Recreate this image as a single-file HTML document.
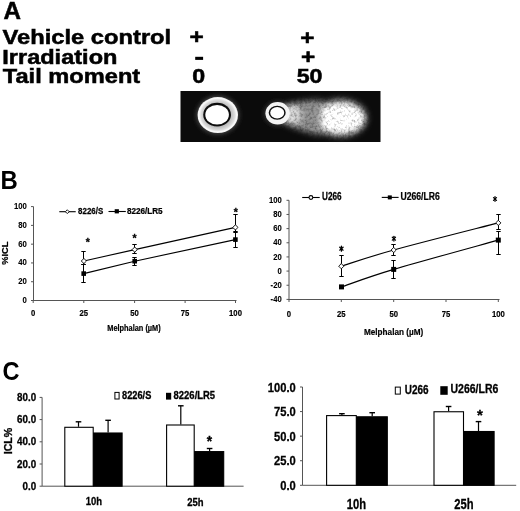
<!DOCTYPE html>
<html><head><meta charset="utf-8"><style>
html,body{margin:0;padding:0;background:#fff;}
svg{display:block;will-change:transform;}
text{font-family:"Liberation Sans", sans-serif;fill:#000;}
</style></head><body>
<svg width="520" height="511" viewBox="0 0 520 511">
<defs>
<radialGradient id="ringg"><stop offset="0" stop-color="#c8c8c8"/><stop offset="0.68" stop-color="#c0c0c0"/><stop offset="0.84" stop-color="#dedede"/><stop offset="0.93" stop-color="#fafafa"/><stop offset="1" stop-color="#f0f0f0"/></radialGradient>
<filter id="b04" x="-20%" y="-20%" width="140%" height="140%"><feGaussianBlur stdDeviation="0.4"/></filter>
<filter id="b05" x="-20%" y="-20%" width="140%" height="140%"><feGaussianBlur stdDeviation="0.5"/></filter>
<filter id="b07" x="-20%" y="-20%" width="140%" height="140%"><feGaussianBlur stdDeviation="0.7"/></filter>
<filter id="b1" x="-20%" y="-20%" width="140%" height="140%"><feGaussianBlur stdDeviation="1"/></filter>
<filter id="b2" x="-30%" y="-30%" width="160%" height="160%"><feGaussianBlur stdDeviation="2"/></filter>
<filter id="tailf" x="-20%" y="-30%" width="140%" height="160%">
<feGaussianBlur in="SourceGraphic" stdDeviation="3" result="bl"/>
<feTurbulence type="fractalNoise" baseFrequency="0.35" numOctaves="3" seed="5" result="n"/>
<feColorMatrix in="n" type="matrix" values="0 0 0 0 1  0 0 0 0 1  0 0 0 0 1  0 0 0 1.6 -0.1" result="m"/>
<feComposite in="bl" in2="m" operator="arithmetic" k1="0.6" k2="0.6" k3="0" k4="0"/>
</filter>
</defs>
<text x="0" y="0" font-size="24.2" font-weight="bold" text-anchor="start" stroke="#000" stroke-width="0.5" transform="translate(3.6 18.5)">A</text>
<text x="2.6" y="44.3" font-size="19.5" font-weight="bold" text-anchor="start" textLength="168.6" lengthAdjust="spacingAndGlyphs" stroke="#000" stroke-width="0.5">Vehicle control</text>
<text x="2.3" y="64.3" font-size="19.5" font-weight="bold" text-anchor="start" textLength="115.1" lengthAdjust="spacingAndGlyphs" stroke="#000" stroke-width="0.5">Irradiation</text>
<text x="2.8" y="83.4" font-size="19.5" font-weight="bold" text-anchor="start" textLength="137.4" lengthAdjust="spacingAndGlyphs" stroke="#000" stroke-width="0.5">Tail moment</text>
<text x="196.6" y="44.4" font-size="19.5" font-weight="bold" text-anchor="middle" stroke="#000" stroke-width="0.5" transform="translate(196.6 0) scale(1.25 1) translate(-196.6 0)">+</text>
<rect x="195.2" y="56.8" width="7.9" height="3.1" fill="#000"/>
<text x="198.7" y="83.4" font-size="19.5" font-weight="bold" text-anchor="middle" stroke="#000" stroke-width="0.5" transform="translate(198.7 0) scale(1.19 1) translate(-198.7 0)">0</text>
<text x="307.4" y="44.7" font-size="19.5" font-weight="bold" text-anchor="middle" stroke="#000" stroke-width="0.5" transform="translate(307.4 0) scale(1.25 1) translate(-307.4 0)">+</text>
<text x="308.2" y="64" font-size="19.5" font-weight="bold" text-anchor="middle" stroke="#000" stroke-width="0.5" transform="translate(308.2 0) scale(1.25 1) translate(-308.2 0)">+</text>
<text x="309.6" y="83.3" font-size="19.5" font-weight="bold" text-anchor="middle" stroke="#000" stroke-width="0.5" transform="translate(309.6 0) scale(1.19 1) translate(-309.6 0)">50</text>
<g>
<rect x="180.5" y="91" width="200" height="51" fill="#0b0b0b"/>
<ellipse cx="217.8" cy="115.1" rx="21.5" ry="19.3" fill="#444" filter="url(#b2)"/>
<ellipse cx="217.8" cy="115.1" rx="20.2" ry="18" fill="url(#ringg)" filter="url(#b07)"/>
<ellipse cx="217.1" cy="114.7" rx="13.9" ry="11.9" fill="#111" filter="url(#b04)"/>
<ellipse cx="217.1" cy="114.7" rx="11.8" ry="9.8" fill="#fff" filter="url(#b04)"/>
<ellipse cx="277.5" cy="113.5" rx="13.5" ry="12.5" fill="#333" filter="url(#b2)"/>
<g filter="url(#tailf)">
<ellipse cx="340" cy="118" rx="27" ry="19" fill="#888"/>
<ellipse cx="340.5" cy="118.2" rx="23.5" ry="14.5" fill="#fff"/>
<ellipse cx="341" cy="118.3" rx="18" ry="10" fill="#fff"/>
<path d="M284,105 C296,102 310,100 322,100 L322,135 C310,133 296,129 284,123 Z" fill="#8a8a8a"/>
<ellipse cx="292" cy="114.5" rx="9" ry="9.5" fill="#d0d0d0"/>
</g>
<ellipse cx="277.6" cy="113.3" rx="12.2" ry="11.2" fill="#f4f4f4" filter="url(#b07)"/>
<ellipse cx="277.2" cy="112.75" rx="8.5" ry="7.1" fill="#111" filter="url(#b04)"/>
<ellipse cx="277.2" cy="112.75" rx="7.0" ry="5.75" fill="#fff" filter="url(#b04)"/>
</g>
<text x="0" y="0" font-size="26.3" font-weight="bold" text-anchor="start" transform="translate(0.5 189) scale(0.91 1)">B</text>
<line x1="33.50" y1="206.60" x2="33.50" y2="301.00" stroke="#555" stroke-width="1.0"/>
<line x1="33.00" y1="300.50" x2="236.50" y2="300.50" stroke="#555" stroke-width="1.0"/>
<line x1="31.00" y1="300.50" x2="33.50" y2="300.50" stroke="#555" stroke-width="1.0"/>
<line x1="31.00" y1="281.72" x2="33.50" y2="281.72" stroke="#555" stroke-width="1.0"/>
<line x1="31.00" y1="262.94" x2="33.50" y2="262.94" stroke="#555" stroke-width="1.0"/>
<line x1="31.00" y1="244.16" x2="33.50" y2="244.16" stroke="#555" stroke-width="1.0"/>
<line x1="31.00" y1="225.38" x2="33.50" y2="225.38" stroke="#555" stroke-width="1.0"/>
<line x1="31.00" y1="206.60" x2="33.50" y2="206.60" stroke="#555" stroke-width="1.0"/>
<line x1="33.20" y1="300.50" x2="33.20" y2="303.00" stroke="#555" stroke-width="1.0"/>
<line x1="83.80" y1="300.50" x2="83.80" y2="303.00" stroke="#555" stroke-width="1.0"/>
<line x1="134.60" y1="300.50" x2="134.60" y2="303.00" stroke="#555" stroke-width="1.0"/>
<line x1="185.10" y1="300.50" x2="185.10" y2="303.00" stroke="#555" stroke-width="1.0"/>
<line x1="235.50" y1="300.50" x2="235.50" y2="303.00" stroke="#555" stroke-width="1.0"/>
<text transform="translate(26.90 303.00) scale(0.8 1)" font-size="9.7" font-weight="bold" text-anchor="end" stroke="#000" stroke-width="0.12">0</text>
<text transform="translate(26.90 284.22) scale(0.8 1)" font-size="9.7" font-weight="bold" text-anchor="end" stroke="#000" stroke-width="0.12">20</text>
<text transform="translate(26.90 265.44) scale(0.8 1)" font-size="9.7" font-weight="bold" text-anchor="end" stroke="#000" stroke-width="0.12">40</text>
<text transform="translate(26.90 246.66) scale(0.8 1)" font-size="9.7" font-weight="bold" text-anchor="end" stroke="#000" stroke-width="0.12">60</text>
<text transform="translate(26.90 227.88) scale(0.8 1)" font-size="9.7" font-weight="bold" text-anchor="end" stroke="#000" stroke-width="0.12">80</text>
<text transform="translate(26.90 209.10) scale(0.8 1)" font-size="9.7" font-weight="bold" text-anchor="end" stroke="#000" stroke-width="0.12">100</text>
<text transform="translate(33.20 316.40) scale(0.82 1)" font-size="9.4" font-weight="bold" text-anchor="middle" stroke="#000" stroke-width="0.2">0</text>
<text transform="translate(83.80 316.40) scale(0.82 1)" font-size="9.4" font-weight="bold" text-anchor="middle" stroke="#000" stroke-width="0.2">25</text>
<text transform="translate(134.60 316.40) scale(0.82 1)" font-size="9.4" font-weight="bold" text-anchor="middle" stroke="#000" stroke-width="0.2">50</text>
<text transform="translate(185.10 316.40) scale(0.82 1)" font-size="9.4" font-weight="bold" text-anchor="middle" stroke="#000" stroke-width="0.2">75</text>
<text transform="translate(235.50 316.40) scale(0.82 1)" font-size="9.4" font-weight="bold" text-anchor="middle" stroke="#000" stroke-width="0.2">100</text>
<text transform="translate(134.00 331.30) scale(0.9 1)" font-size="8.2" font-weight="bold" text-anchor="middle" stroke="#000" stroke-width="0.2">Melphalan (µM)</text>
<text transform="translate(7.90 253.20) rotate(-90)" font-size="9.3" font-weight="bold" text-anchor="middle" stroke="#000" stroke-width="0.2">%ICL</text>
<line x1="83.50" y1="251.70" x2="83.50" y2="264.00" stroke="#000" stroke-width="1.05"/>
<line x1="81.30" y1="251.50" x2="85.70" y2="251.50" stroke="#000" stroke-width="1.05"/>
<line x1="81.30" y1="264.50" x2="85.70" y2="264.50" stroke="#000" stroke-width="1.05"/>
<line x1="83.50" y1="264.90" x2="83.50" y2="282.30" stroke="#000" stroke-width="1.05"/>
<line x1="81.30" y1="264.50" x2="85.70" y2="264.50" stroke="#000" stroke-width="1.05"/>
<line x1="81.30" y1="282.50" x2="85.70" y2="282.50" stroke="#000" stroke-width="1.05"/>
<line x1="134.50" y1="244.70" x2="134.50" y2="253.10" stroke="#000" stroke-width="1.05"/>
<line x1="132.30" y1="244.50" x2="136.70" y2="244.50" stroke="#000" stroke-width="1.05"/>
<line x1="132.30" y1="253.50" x2="136.70" y2="253.50" stroke="#000" stroke-width="1.05"/>
<line x1="134.50" y1="257.60" x2="134.50" y2="265.20" stroke="#000" stroke-width="1.05"/>
<line x1="132.30" y1="257.50" x2="136.70" y2="257.50" stroke="#000" stroke-width="1.05"/>
<line x1="132.30" y1="265.50" x2="136.70" y2="265.50" stroke="#000" stroke-width="1.05"/>
<line x1="235.50" y1="214.00" x2="235.50" y2="231.40" stroke="#000" stroke-width="1.05"/>
<line x1="233.30" y1="214.50" x2="237.70" y2="214.50" stroke="#000" stroke-width="1.05"/>
<line x1="233.30" y1="231.50" x2="237.70" y2="231.50" stroke="#000" stroke-width="1.05"/>
<line x1="235.50" y1="232.00" x2="235.50" y2="247.00" stroke="#000" stroke-width="1.05"/>
<line x1="233.30" y1="232.50" x2="237.70" y2="232.50" stroke="#000" stroke-width="1.05"/>
<line x1="233.30" y1="247.50" x2="237.70" y2="247.50" stroke="#000" stroke-width="1.05"/>
<path d="M83.90,261.00 L134.70,249.60 L235.40,227.40" stroke="#000" stroke-width="1.1" fill="none"/>
<path d="M83.70,273.60 L134.70,261.20 L235.40,239.60" stroke="#000" stroke-width="1.1" fill="none"/>
<path d="M83.90,258.40 L86.50,261.00 L83.90,263.60 L81.30,261.00Z" fill="#fff" stroke="#000" stroke-width="0.9"/>
<path d="M134.70,247.00 L137.30,249.60 L134.70,252.20 L132.10,249.60Z" fill="#fff" stroke="#000" stroke-width="0.9"/>
<path d="M235.40,224.80 L238.00,227.40 L235.40,230.00 L232.80,227.40Z" fill="#fff" stroke="#000" stroke-width="0.9"/>
<rect x="81.40" y="271.30" width="4.60" height="4.60" fill="#000"/>
<rect x="132.40" y="258.90" width="4.60" height="4.60" fill="#000"/>
<rect x="233.10" y="237.30" width="4.60" height="4.60" fill="#000"/>
<text transform="translate(87.80 246.23)" font-size="10.5" font-weight="bold" text-anchor="middle" stroke="#000" stroke-width="0.3">*</text>
<text transform="translate(134.60 242.03)" font-size="10.5" font-weight="bold" text-anchor="middle" stroke="#000" stroke-width="0.3">*</text>
<text transform="translate(235.70 215.53)" font-size="10.5" font-weight="bold" text-anchor="middle" stroke="#000" stroke-width="0.3">*</text>
<line x1="59.30" y1="211.70" x2="75.70" y2="211.70" stroke="#000" stroke-width="1.1"/>
<path d="M67.30,209.80 L69.20,211.70 L67.30,213.60 L65.40,211.70Z" fill="#fff" stroke="#000" stroke-width="0.9"/>
<text transform="translate(78.10 213.70) scale(0.86 1)" font-size="9.2" font-weight="bold" text-anchor="start" stroke="#000" stroke-width="0.25">8226/S</text>
<line x1="108.50" y1="211.50" x2="125.80" y2="211.50" stroke="#000" stroke-width="1.1"/>
<rect x="114.70" y="209.20" width="4.20" height="4.20" fill="#000"/>
<text transform="translate(126.90 213.70) scale(0.885 1)" font-size="9.2" font-weight="bold" text-anchor="start" stroke="#000" stroke-width="0.25">8226/LR5</text>
<line x1="289.00" y1="200.30" x2="289.00" y2="299.90" stroke="#555" stroke-width="1.0"/>
<line x1="288.50" y1="299.50" x2="499.50" y2="299.50" stroke="#555" stroke-width="1.0"/>
<line x1="286.50" y1="299.40" x2="289.00" y2="299.40" stroke="#555" stroke-width="1.0"/>
<line x1="286.50" y1="285.24" x2="289.00" y2="285.24" stroke="#555" stroke-width="1.0"/>
<line x1="286.50" y1="271.09" x2="289.00" y2="271.09" stroke="#555" stroke-width="1.0"/>
<line x1="286.50" y1="256.93" x2="289.00" y2="256.93" stroke="#555" stroke-width="1.0"/>
<line x1="286.50" y1="242.77" x2="289.00" y2="242.77" stroke="#555" stroke-width="1.0"/>
<line x1="286.50" y1="228.61" x2="289.00" y2="228.61" stroke="#555" stroke-width="1.0"/>
<line x1="286.50" y1="214.46" x2="289.00" y2="214.46" stroke="#555" stroke-width="1.0"/>
<line x1="286.50" y1="200.30" x2="289.00" y2="200.30" stroke="#555" stroke-width="1.0"/>
<line x1="289.00" y1="299.50" x2="289.00" y2="302.00" stroke="#555" stroke-width="1.0"/>
<line x1="341.30" y1="299.50" x2="341.30" y2="302.00" stroke="#555" stroke-width="1.0"/>
<line x1="393.70" y1="299.50" x2="393.70" y2="302.00" stroke="#555" stroke-width="1.0"/>
<line x1="446.00" y1="299.50" x2="446.00" y2="302.00" stroke="#555" stroke-width="1.0"/>
<line x1="498.30" y1="299.50" x2="498.30" y2="302.00" stroke="#555" stroke-width="1.0"/>
<text transform="translate(281.70 302.00) scale(0.8 1)" font-size="9.6" font-weight="bold" text-anchor="end" stroke="#000" stroke-width="0.12">-40</text>
<text transform="translate(281.70 287.84) scale(0.8 1)" font-size="9.6" font-weight="bold" text-anchor="end" stroke="#000" stroke-width="0.12">-20</text>
<text transform="translate(281.70 273.69) scale(0.8 1)" font-size="9.6" font-weight="bold" text-anchor="end" stroke="#000" stroke-width="0.12">0</text>
<text transform="translate(281.70 259.53) scale(0.8 1)" font-size="9.6" font-weight="bold" text-anchor="end" stroke="#000" stroke-width="0.12">20</text>
<text transform="translate(281.70 245.37) scale(0.8 1)" font-size="9.6" font-weight="bold" text-anchor="end" stroke="#000" stroke-width="0.12">40</text>
<text transform="translate(281.70 231.21) scale(0.8 1)" font-size="9.6" font-weight="bold" text-anchor="end" stroke="#000" stroke-width="0.12">60</text>
<text transform="translate(281.70 217.06) scale(0.8 1)" font-size="9.6" font-weight="bold" text-anchor="end" stroke="#000" stroke-width="0.12">80</text>
<text transform="translate(281.70 202.90) scale(0.8 1)" font-size="9.6" font-weight="bold" text-anchor="end" stroke="#000" stroke-width="0.12">100</text>
<text transform="translate(289.00 316.80) scale(0.82 1)" font-size="9.4" font-weight="bold" text-anchor="middle" stroke="#000" stroke-width="0.2">0</text>
<text transform="translate(341.30 316.80) scale(0.82 1)" font-size="9.4" font-weight="bold" text-anchor="middle" stroke="#000" stroke-width="0.2">25</text>
<text transform="translate(393.70 316.80) scale(0.82 1)" font-size="9.4" font-weight="bold" text-anchor="middle" stroke="#000" stroke-width="0.2">50</text>
<text transform="translate(446.00 316.80) scale(0.82 1)" font-size="9.4" font-weight="bold" text-anchor="middle" stroke="#000" stroke-width="0.2">75</text>
<text transform="translate(498.30 316.80) scale(0.82 1)" font-size="9.4" font-weight="bold" text-anchor="middle" stroke="#000" stroke-width="0.2">100</text>
<text transform="translate(393.60 334.70) scale(0.88 1)" font-size="9.3" font-weight="bold" text-anchor="middle" stroke="#000" stroke-width="0.2">Melphalan (µM)</text>
<line x1="341.50" y1="255.00" x2="341.50" y2="276.30" stroke="#000" stroke-width="1.05"/>
<line x1="339.30" y1="255.50" x2="343.70" y2="255.50" stroke="#000" stroke-width="1.05"/>
<line x1="339.30" y1="276.50" x2="343.70" y2="276.50" stroke="#000" stroke-width="1.05"/>
<line x1="393.50" y1="244.00" x2="393.50" y2="255.00" stroke="#000" stroke-width="1.05"/>
<line x1="391.30" y1="244.50" x2="395.70" y2="244.50" stroke="#000" stroke-width="1.05"/>
<line x1="391.30" y1="255.50" x2="395.70" y2="255.50" stroke="#000" stroke-width="1.05"/>
<line x1="393.50" y1="260.60" x2="393.50" y2="278.10" stroke="#000" stroke-width="1.05"/>
<line x1="391.30" y1="260.50" x2="395.70" y2="260.50" stroke="#000" stroke-width="1.05"/>
<line x1="391.30" y1="278.50" x2="395.70" y2="278.50" stroke="#000" stroke-width="1.05"/>
<line x1="498.50" y1="214.70" x2="498.50" y2="229.90" stroke="#000" stroke-width="1.05"/>
<line x1="496.30" y1="214.50" x2="500.70" y2="214.50" stroke="#000" stroke-width="1.05"/>
<line x1="496.30" y1="229.50" x2="500.70" y2="229.50" stroke="#000" stroke-width="1.05"/>
<line x1="498.50" y1="231.00" x2="498.50" y2="254.60" stroke="#000" stroke-width="1.05"/>
<line x1="496.30" y1="231.50" x2="500.70" y2="231.50" stroke="#000" stroke-width="1.05"/>
<line x1="496.30" y1="254.50" x2="500.70" y2="254.50" stroke="#000" stroke-width="1.05"/>
<path d="M341.30,266.20 C350.03,263.50 367.53,257.22 393.70,250.00 C419.87,242.78 480.87,227.42 498.30,222.90" stroke="#000" stroke-width="1.1" fill="none"/>
<path d="M341.50,286.90 C350.20,283.98 367.57,277.20 393.70,269.40 C419.83,261.60 480.87,244.98 498.30,240.10" stroke="#000" stroke-width="1.1" fill="none"/>
<path d="M341.30,263.60 L343.90,266.20 L341.30,268.80 L338.70,266.20Z" fill="#fff" stroke="#000" stroke-width="0.9"/>
<path d="M393.70,247.40 L396.30,250.00 L393.70,252.60 L391.10,250.00Z" fill="#fff" stroke="#000" stroke-width="0.9"/>
<path d="M498.30,220.30 L500.90,222.90 L498.30,225.50 L495.70,222.90Z" fill="#fff" stroke="#000" stroke-width="0.9"/>
<rect x="339.00" y="284.40" width="5.00" height="5.00" fill="#000"/>
<rect x="391.20" y="266.90" width="5.00" height="5.00" fill="#000"/>
<rect x="495.80" y="237.60" width="5.00" height="5.00" fill="#000"/>
<g stroke="#000" stroke-width="1.25" stroke-linecap="round"><line x1="341.40" y1="246.20" x2="341.40" y2="251.20"/><line x1="339.70" y1="247.20" x2="343.10" y2="250.20"/><line x1="339.70" y1="250.20" x2="343.10" y2="247.20"/></g>
<g stroke="#000" stroke-width="1.25" stroke-linecap="round"><line x1="393.90" y1="236.30" x2="393.90" y2="241.10"/><line x1="392.30" y1="237.25" x2="395.50" y2="240.15"/><line x1="392.30" y1="240.15" x2="395.50" y2="237.25"/></g>
<g stroke="#000" stroke-width="1.25" stroke-linecap="round"><line x1="495.00" y1="196.70" x2="495.00" y2="201.30"/><line x1="493.50" y1="197.60" x2="496.50" y2="200.40"/><line x1="493.50" y1="200.40" x2="496.50" y2="197.60"/></g>
<line x1="302.20" y1="197.50" x2="319.70" y2="197.50" stroke="#000" stroke-width="1.1"/>
<circle cx="310.9" cy="197.5" r="1.9" fill="#fff" stroke="#000" stroke-width="1.1"/>
<text transform="translate(322.10 200.00) scale(0.8 1)" font-size="10.2" font-weight="bold" text-anchor="start" stroke="#000" stroke-width="0.25">U266</text>
<line x1="381.75" y1="197.40" x2="398.60" y2="197.40" stroke="#000" stroke-width="1.1"/>
<rect x="387.80" y="195.40" width="4.00" height="4.00" fill="#000"/>
<text transform="translate(400.50 200.20) scale(0.845 1)" font-size="10.2" font-weight="bold" text-anchor="start" stroke="#000" stroke-width="0.25">U266/LR6</text>
<text x="0" y="0" font-size="26" font-weight="bold" text-anchor="start" transform="translate(2.4 380.1) scale(0.905 1)">C</text>
<line x1="42.10" y1="397.40" x2="42.10" y2="486.20" stroke="#555" stroke-width="1.0"/>
<line x1="42.10" y1="486.20" x2="243.60" y2="486.20" stroke="#555" stroke-width="1.0"/>
<line x1="39.60" y1="486.20" x2="42.10" y2="486.20" stroke="#555" stroke-width="1.0"/>
<line x1="39.60" y1="464.00" x2="42.10" y2="464.00" stroke="#555" stroke-width="1.0"/>
<line x1="39.60" y1="441.80" x2="42.10" y2="441.80" stroke="#555" stroke-width="1.0"/>
<line x1="39.60" y1="419.60" x2="42.10" y2="419.60" stroke="#555" stroke-width="1.0"/>
<line x1="39.60" y1="397.40" x2="42.10" y2="397.40" stroke="#555" stroke-width="1.0"/>
<text transform="translate(36.10 489.80) scale(0.96 1)" font-size="10.2" font-weight="bold" text-anchor="end" stroke="#000" stroke-width="0.3">0.0</text>
<text transform="translate(36.10 467.60) scale(0.96 1)" font-size="10.2" font-weight="bold" text-anchor="end" stroke="#000" stroke-width="0.3">20.0</text>
<text transform="translate(36.10 445.40) scale(0.96 1)" font-size="10.2" font-weight="bold" text-anchor="end" stroke="#000" stroke-width="0.3">40.0</text>
<text transform="translate(36.10 423.20) scale(0.96 1)" font-size="10.2" font-weight="bold" text-anchor="end" stroke="#000" stroke-width="0.3">60.0</text>
<text transform="translate(36.10 401.00) scale(0.96 1)" font-size="10.2" font-weight="bold" text-anchor="end" stroke="#000" stroke-width="0.3">80.0</text>
<line x1="78.50" y1="421.80" x2="78.50" y2="426.80" stroke="#000" stroke-width="1.2"/>
<line x1="75.70" y1="421.80" x2="81.30" y2="421.80" stroke="#000" stroke-width="1.4"/>
<rect x="64.80" y="427.30" width="28.40" height="58.90" fill="#fff" stroke="#000" stroke-width="1.1"/>
<line x1="108.10" y1="420.30" x2="108.10" y2="432.50" stroke="#000" stroke-width="1.2"/>
<line x1="105.30" y1="420.30" x2="110.90" y2="420.30" stroke="#000" stroke-width="1.4"/>
<rect x="93.70" y="433.00" width="28.40" height="53.20" fill="#000" stroke="#000" stroke-width="1.1"/>
<line x1="180.80" y1="405.80" x2="180.80" y2="424.50" stroke="#000" stroke-width="1.2"/>
<line x1="178.00" y1="405.80" x2="183.60" y2="405.80" stroke="#000" stroke-width="1.4"/>
<rect x="166.60" y="425.00" width="27.60" height="61.20" fill="#fff" stroke="#000" stroke-width="1.1"/>
<line x1="209.60" y1="448.50" x2="209.60" y2="451.10" stroke="#000" stroke-width="1.2"/>
<line x1="206.80" y1="448.50" x2="212.40" y2="448.50" stroke="#000" stroke-width="1.4"/>
<rect x="194.70" y="451.60" width="29.00" height="34.60" fill="#000" stroke="#000" stroke-width="1.1"/>
<text transform="translate(209.55 446.30)" font-size="13.8" font-weight="bold" text-anchor="middle" stroke="#000" stroke-width="0.3">*</text>
<text transform="translate(94.00 505.40) scale(0.84 1)" font-size="11.3" font-weight="bold" text-anchor="middle" stroke="#000" stroke-width="0.3">10h</text>
<text transform="translate(195.30 505.50) scale(0.84 1)" font-size="11.3" font-weight="bold" text-anchor="middle" stroke="#000" stroke-width="0.3">25h</text>
<text transform="translate(12.00 441.00) rotate(-90) scale(0.95 1)" font-size="11.2" font-weight="bold" text-anchor="middle" stroke="#000" stroke-width="0.3">ICL%</text>
<rect x="114.9" y="392.4" width="4.2" height="6.6" fill="#fff" stroke="#000" stroke-width="1"/>
<text transform="translate(122.10 398.50) scale(0.905 1)" font-size="10.2" font-weight="bold" text-anchor="start" stroke="#000" stroke-width="0.3">8226/S</text>
<rect x="166" y="392.8" width="5.2" height="6.8" fill="#000"/>
<text transform="translate(173.60 398.50) scale(0.928 1)" font-size="10.2" font-weight="bold" text-anchor="start" stroke="#000" stroke-width="0.3">8226/LR5</text>
<line x1="302.50" y1="387.00" x2="302.50" y2="485.30" stroke="#555" stroke-width="1.0"/>
<line x1="302.50" y1="485.30" x2="516.20" y2="485.30" stroke="#555" stroke-width="1.0"/>
<line x1="300.00" y1="485.30" x2="302.50" y2="485.30" stroke="#555" stroke-width="1.0"/>
<line x1="300.00" y1="460.73" x2="302.50" y2="460.73" stroke="#555" stroke-width="1.0"/>
<line x1="300.00" y1="436.15" x2="302.50" y2="436.15" stroke="#555" stroke-width="1.0"/>
<line x1="300.00" y1="411.57" x2="302.50" y2="411.57" stroke="#555" stroke-width="1.0"/>
<line x1="300.00" y1="387.00" x2="302.50" y2="387.00" stroke="#555" stroke-width="1.0"/>
<text transform="translate(295.80 489.90) scale(0.86 1)" font-size="13" font-weight="bold" text-anchor="end" stroke="#000" stroke-width="0.3">0.0</text>
<text transform="translate(295.80 465.33) scale(0.86 1)" font-size="13" font-weight="bold" text-anchor="end" stroke="#000" stroke-width="0.3">25.0</text>
<text transform="translate(295.80 440.75) scale(0.86 1)" font-size="13" font-weight="bold" text-anchor="end" stroke="#000" stroke-width="0.3">50.0</text>
<text transform="translate(295.80 416.18) scale(0.86 1)" font-size="13" font-weight="bold" text-anchor="end" stroke="#000" stroke-width="0.3">75.0</text>
<text transform="translate(295.80 391.60) scale(0.86 1)" font-size="13" font-weight="bold" text-anchor="end" stroke="#000" stroke-width="0.3">100.0</text>
<line x1="341.90" y1="413.70" x2="341.90" y2="415.10" stroke="#000" stroke-width="1.2"/>
<line x1="339.10" y1="413.70" x2="344.70" y2="413.70" stroke="#000" stroke-width="1.4"/>
<rect x="326.60" y="415.60" width="29.70" height="69.70" fill="#fff" stroke="#000" stroke-width="1.1"/>
<line x1="372.20" y1="412.70" x2="372.20" y2="416.30" stroke="#000" stroke-width="1.2"/>
<line x1="369.40" y1="412.70" x2="375.00" y2="412.70" stroke="#000" stroke-width="1.4"/>
<rect x="356.80" y="416.80" width="30.50" height="68.50" fill="#000" stroke="#000" stroke-width="1.1"/>
<line x1="448.60" y1="406.50" x2="448.60" y2="411.25" stroke="#000" stroke-width="1.2"/>
<line x1="445.80" y1="406.50" x2="451.40" y2="406.50" stroke="#000" stroke-width="1.4"/>
<rect x="434.00" y="411.75" width="29.50" height="73.55" fill="#fff" stroke="#000" stroke-width="1.1"/>
<line x1="478.50" y1="421.60" x2="478.50" y2="431.00" stroke="#000" stroke-width="1.2"/>
<line x1="475.70" y1="421.60" x2="481.30" y2="421.60" stroke="#000" stroke-width="1.4"/>
<rect x="464.00" y="431.50" width="30.10" height="53.80" fill="#000" stroke="#000" stroke-width="1.1"/>
<text transform="translate(480.00 420.31)" font-size="15" font-weight="bold" text-anchor="middle" stroke="#000" stroke-width="0.3">*</text>
<text transform="translate(356.50 508.60) scale(0.8 1)" font-size="14" font-weight="bold" text-anchor="middle" stroke="#000" stroke-width="0.3">10h</text>
<text transform="translate(463.90 508.70) scale(0.8 1)" font-size="14" font-weight="bold" text-anchor="middle" stroke="#000" stroke-width="0.3">25h</text>
<rect x="395.3" y="387.1" width="5" height="7" fill="#fff" stroke="#000" stroke-width="1"/>
<text transform="translate(404.80 393.50) scale(0.83 1)" font-size="12" font-weight="bold" text-anchor="start" stroke="#000" stroke-width="0.3">U266</text>
<rect x="440.3" y="386.2" width="7.4" height="8.6" fill="#000"/>
<text transform="translate(450.50 392.90) scale(0.875 1)" font-size="12" font-weight="bold" text-anchor="start" stroke="#000" stroke-width="0.3">U266/LR6</text>
</svg>
</body></html>
